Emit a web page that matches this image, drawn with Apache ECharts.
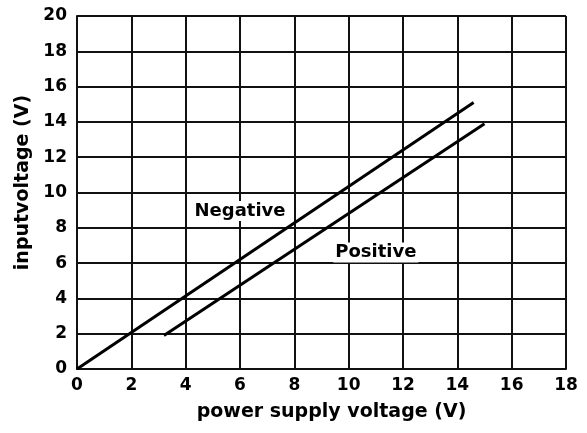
<!DOCTYPE html>
<html>
<head>
<meta charset="UTF-8"/>
<title>input voltage vs power supply voltage</title>
<script src="https://cdn.jsdelivr.net/npm/echarts@6/dist/echarts.min.js"></script>
<style>
html, body { margin: 0; padding: 0; background: #fff; }
#chart { width: 587px; height: 433px; }
</style>
</head>
<body>
<div id="chart"></div>
<script>
// data
var negativeLine = [[0, 0], [14.6, 15.1]];
var positiveLine = [[3.2, 1.9], [15.0, 13.9]];
var curveNames = ['Negative', 'Positive'];
var namePoints = [[6, 8.95], [11, 6.6]];

var xTitle = 'power supply voltage (V)';
var yTitle = 'inputvoltage (V)';

var font = 'DejaVu Sans';
var ink = '#111';

var myChart = echarts.init(document.getElementById('chart'));

var option = {
  backgroundColor: '#fff',
  animation: false,
  grid: { left: 77, right: 21, top: 16, bottom: 64 },
  xAxis: {
    type: 'value', min: 0, max: 18, interval: 2,
    name: xTitle, nameLocation: 'middle', nameGap: 34,
    nameTextStyle: { color: '#000', fontFamily: font, fontWeight: 'bold', fontSize: 19, padding: [0, 0, 0, 20] },
    axisLine: { lineStyle: { color: ink, width: 2 } },
    axisTick: { show: false },
    axisLabel: { color: '#000', fontFamily: font, fontWeight: 'bold', fontSize: 17, margin: 8 },
    splitLine: { show: true, lineStyle: { color: ink, width: 2 } }
  },
  yAxis: {
    type: 'value', min: 0, max: 20, interval: 2,
    name: yTitle, nameLocation: 'middle', nameGap: 43,
    nameTextStyle: { color: '#000', fontFamily: font, fontWeight: 'bold', fontSize: 19, padding: [0, 0, 0, 20] },
    axisLine: { lineStyle: { color: ink, width: 2 } },
    axisTick: { show: false },
    axisLabel: { color: '#000', fontFamily: font, fontWeight: 'bold', fontSize: 17, margin: 10 },
    splitLine: { show: true, lineStyle: { color: ink, width: 2 } }
  },
  series: [
    {
      name: curveNames[0], type: 'line', data: negativeLine,
      symbol: 'none', lineStyle: { color: '#000', width: 3 }
    },
    {
      name: curveNames[1], type: 'line', data: positiveLine,
      symbol: 'none', lineStyle: { color: '#000', width: 3 }
    },
    {
      type: 'scatter', symbolSize: 0,
      itemStyle: { opacity: 1 },
      data: namePoints.map(function (p, i) { return { value: p, name: curveNames[i] }; }),
      label: {
        show: true, position: 'inside', formatter: '{b}',
        color: '#000', fontFamily: font, fontWeight: 'bold', fontSize: 18,
        backgroundColor: '#fff', padding: [1, 2]
      }
    }
  ]
};

myChart.setOption(option, true);
</script>
</body>
</html>
